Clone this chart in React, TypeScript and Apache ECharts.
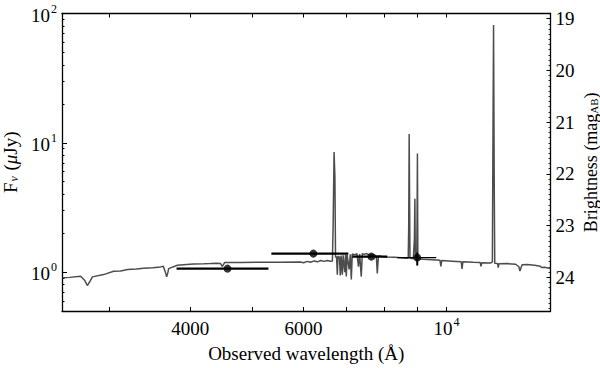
import React, { useEffect, useRef } from "react";
import * as echarts from "echarts";

// Spectrum: observed wavelength (Å) and flux density F_nu (μJy)
const specWave = [
  2535, 2600, 2704, 2745, 2770, 2800, 2820, 2936, 3043, 3120, 3199, 3300, 3387, 3500, 3599, 3634, 3660, 3678, 3695, 3704,
  3821, 3950, 4051, 4200, 4302, 4400, 4460, 4486, 4510, 4523, 4800, 5143, 5500, 5933, 6000, 6080, 6150, 6230, 6300, 6380,
  6450, 6530, 6601, 6650, 6668, 6690, 6710, 6725, 6750, 6768, 6785, 6820, 6840, 6860, 6890, 6910, 6950, 6970, 6989, 7010,
  7060, 7090, 7115, 7140, 7200, 7260, 7300, 7330, 7373, 7400, 7450, 7520, 7600, 7700, 7780, 7808, 7840, 7950, 8100, 8300,
  8500, 8650, 8720, 8735, 8750, 8762, 8775, 8880, 8915, 8930, 8945, 8990, 9000, 9012, 9025, 9040, 9200, 9500, 9770, 9800,
  9830, 10200, 10540, 10570, 10600, 11000, 11280, 11310, 11340, 11700, 11780, 11800, 11830, 11860, 11880, 12000, 12030, 12060, 12420, 12800,
  12950, 13000, 13050, 13100, 13340, 13700, 13980, 14060, 14200, 14500,
];
const specFlux = [
  0.902, 0.91, 0.928, 0.86, 0.787, 0.86, 0.918, 0.956, 1.014, 1.02, 1.045, 1.055, 1.07, 1.08, 1.097, 1.108, 1.0, 0.918, 1.0, 1.064,
  1.128, 1.145, 1.157, 1.16, 1.163, 1.17, 1.165, 1.108, 1.15, 1.184, 1.188, 1.19, 1.192, 1.195, 1.18, 1.21, 1.19, 1.22, 1.2, 1.23,
  1.21, 1.23, 1.212, 1.22, 2.33, 8.48, 5.49, 1.3, 1.32, 0.956, 1.33, 1.3, 0.94, 1.34, 0.956, 1.35, 1.0, 1.36, 0.923, 1.36,
  1.05, 1.37, 0.875, 1.38, 1.36, 1.39, 1.1, 1.38, 0.923, 1.39, 1.37, 1.39, 1.35, 1.36, 1.34, 0.974, 1.34, 1.32, 1.31, 1.3,
  1.29, 1.28, 1.28, 2.2, 11.7, 4.0, 1.28, 1.27, 1.8, 3.69, 1.27, 1.27, 2.5, 8.27, 1.27, 1.26, 1.255, 1.245, 1.233, 1.108,
  1.23, 1.215, 1.2, 1.058, 1.2, 1.19, 1.185, 1.108, 1.18, 1.175, 1.2, 7.2, 81.5, 4.3, 1.17, 1.165, 1.083, 1.16, 1.163, 1.15,
  1.1, 1.02, 1.08, 1.14, 1.143, 1.13, 1.108, 1.083, 1.09, 1.064,
];

// Photometric points
const photWave = [4571, 6213, 7645, 9006];
const photFlux = [1.064, 1.389, 1.317, 1.294];
const photWaveLo = [3810, 5347, 7142, 8386];
const photWaveHi = [5291, 7039, 8091, 9638];
const photFluxLo = [1.064, 1.389, 1.317, 1.123];
const photFluxHi = [1.064, 1.389, 1.317, 1.414];

// Axes
const xMin = 2530;
const xMax = 14500;
const yMin = 0.5;
const yMax = 100;
const xTickValues = [3000, 4000, 5000, 6000, 7000, 8000, 9000, 10000];
const xLabelValues = [4000, 6000, 10000];
const yMajorValues = [1, 10, 100];
const yMinorValues = [0.5, 0.6, 0.7, 0.8, 0.9, 2, 3, 4, 5, 6, 7, 8, 9, 20, 30, 40, 50, 60, 70, 80, 90];
const magLabels = [19, 20, 21, 22, 23, 24];
const magZero = 23.9; // AB zero point for μJy

const FONT = "'Liberation Serif', 'DejaVu Serif', serif";
const lg = Math.log10;

export default function App() {
  const ref = useRef<HTMLDivElement>(null);

  useEffect(() => {
    if (!ref.current) return;
    const chart = echarts.init(ref.current, null, { renderer: "svg" });

    const xmin = lg(xMin);
    const xmax = lg(xMax);
    const ymin = lg(yMin);
    const ymax = lg(yMax);
    const magTop = magZero - 2.5 * ymax;
    const magBottom = magZero - 2.5 * ymin;
    const magMinor: number[] = [];
    for (let m = Math.ceil(magTop * 10); m <= Math.floor(magBottom * 10); m++) {
      if (m % 10 !== 0) magMinor.push(m / 10);
    }

    const specData = specWave.map((w, i) => [lg(w), lg(specFlux[i])]);
    const photData = photWave.map((w, i) => [lg(w), lg(photFlux[i])]);
    const errData = photWave.map((w, i) => [
      lg(w),
      lg(photFlux[i]),
      lg(photWaveLo[i]),
      lg(photWaveHi[i]),
      lg(photFluxLo[i]),
      lg(photFluxHi[i]),
      i === 3 ? 1.2 : 2.2,
    ]);

    const supRich = {
      b: { fontFamily: FONT, fontSize: 19, color: "#000", verticalAlign: "bottom", lineHeight: 22 },
      s: { fontFamily: FONT, fontSize: 12, color: "#000", verticalAlign: "top", lineHeight: 22, padding: [0, 0, 0, 1] },
    };

    const xFmt = (v: number) => {
      const r = Math.round(Math.pow(10, v));
      if (r === 10000) return "{b|10}{s|4}";
      return "{b|" + r + "}";
    };

    const option: any = {
      animation: false,
      grid: {
        left: 62,
        right: 49.5,
        top: 13.5,
        bottom: 57,
        containLabel: false,
        outerBoundsMode: "none",
      },
      xAxis: [
        {
          type: "value",
          position: "bottom",
          min: xmin,
          max: xmax,
          axisLine: { show: true, onZero: false, lineStyle: { color: "#000", width: 1.3 } },
          axisTick: {
            show: true,
            inside: true,
            length: 4,
            customValues: xTickValues.map(lg),
            lineStyle: { color: "#000", width: 1 },
          },
          axisLabel: {
            show: true,
            customValues: xLabelValues.map(lg),
            formatter: xFmt,
            margin: 5,
            rich: supRich,
          },
          splitLine: { show: false },
          name: "Observed wavelength (Å)",
          nameLocation: "middle",
          nameGap: 33,
          nameTextStyle: { fontFamily: FONT, fontSize: 19, color: "#000" },
        },
        {
          type: "value",
          position: "top",
          min: xmin,
          max: xmax,
          axisLine: { show: true, onZero: false, lineStyle: { color: "#000", width: 1.3 } },
          axisTick: {
            show: true,
            inside: true,
            length: 4,
            customValues: xTickValues.map(lg),
            lineStyle: { color: "#000", width: 1 },
          },
          axisLabel: { show: false },
          splitLine: { show: false },
        },
      ],
      yAxis: [
        {
          type: "value",
          position: "left",
          min: ymin,
          max: ymax,
          axisLine: { show: true, onZero: false, lineStyle: { color: "#000", width: 1.3 } },
          axisTick: {
            show: true,
            inside: true,
            length: 5,
            customValues: yMajorValues.map(lg),
            lineStyle: { color: "#000", width: 1 },
          },
          axisLabel: {
            show: true,
            customValues: yMajorValues.map(lg),
            formatter: (v: number) => "{b|10}{s|" + Math.round(v) + "}",
            margin: 5,
            rich: supRich,
          },
          splitLine: { show: false },
          name: "{f|F}{sub|ν}{f| (}{i|μ}{f|Jy)}",
          nameLocation: "middle",
          nameGap: 37,
          nameRotate: 90,
          nameTextStyle: {
            fontFamily: FONT,
            fontSize: 19,
            color: "#000",
            rich: {
              f: { fontFamily: FONT, fontSize: 19, color: "#000", verticalAlign: "bottom", lineHeight: 22 },
              i: { fontFamily: FONT, fontSize: 19, fontStyle: "italic", color: "#000", verticalAlign: "bottom", lineHeight: 22 },
              sub: { fontFamily: FONT, fontSize: 12, fontStyle: "italic", color: "#000", verticalAlign: "bottom", lineHeight: 18, padding: [0, 1, 0, 1] },
            },
          },
        },
        {
          type: "value",
          position: "right",
          inverse: true,
          min: magTop,
          max: magBottom,
          axisLine: { show: true, onZero: false, lineStyle: { color: "#000", width: 1.3 } },
          axisTick: {
            show: true,
            inside: true,
            length: 4,
            customValues: magLabels,
            lineStyle: { color: "#000", width: 1 },
          },
          axisLabel: {
            show: true,
            customValues: magLabels,
            formatter: (v: number) => String(Math.round(v)),
            margin: 5,
            fontFamily: FONT,
            fontSize: 19,
            color: "#000",
          },
          splitLine: { show: false },
          name: "{f|Brightness (mag}{sub|AB}{f|)}",
          nameLocation: "middle",
          nameGap: 29,
          nameRotate: 90,
          nameMoveOverlap: false,
          nameTextStyle: {
            fontFamily: FONT,
            fontSize: 18,
            color: "#000",
            rich: {
              f: { fontFamily: FONT, fontSize: 18, color: "#000", verticalAlign: "bottom", lineHeight: 20 },
              sub: { fontFamily: FONT, fontSize: 11, color: "#000", verticalAlign: "bottom", lineHeight: 16 },
            },
          },
        },
        {
          type: "value",
          position: "left",
          min: ymin,
          max: ymax,
          axisLine: { show: false },
          axisTick: {
            show: true,
            inside: true,
            length: 2.5,
            customValues: yMinorValues.map(lg),
            lineStyle: { color: "#000", width: 1 },
          },
          axisLabel: { show: false },
          splitLine: { show: false },
        },
        {
          type: "value",
          position: "right",
          inverse: true,
          min: magTop,
          max: magBottom,
          axisLine: { show: false },
          axisTick: {
            show: true,
            inside: true,
            length: 2,
            customValues: magMinor,
            lineStyle: { color: "#000", width: 0.8 },
          },
          axisLabel: { show: false },
          splitLine: { show: false },
        },
      ],
      series: [
        {
          type: "line",
          xAxisIndex: 0,
          yAxisIndex: 0,
          data: specData,
          showSymbol: false,
          symbol: "none",
          lineStyle: { color: "#4d4d4d", width: 1.5 },
          z: 2,
        },
        {
          type: "custom",
          xAxisIndex: 0,
          yAxisIndex: 0,
          data: errData,
          encode: { x: 0, y: 1 },
          z: 3,
          renderItem: (_params: any, api: any) => {
            const y = api.value(1);
            const a = api.coord([api.value(2), y]);
            const b = api.coord([api.value(3), y]);
            const c = api.coord([api.value(0), api.value(4)]);
            const d = api.coord([api.value(0), api.value(5)]);
            const w = api.value(6);
            return {
              type: "group",
              children: [
                {
                  type: "line",
                  shape: { x1: a[0], y1: a[1], x2: b[0], y2: b[1] },
                  style: { stroke: "#000", lineWidth: w },
                },
                {
                  type: "line",
                  shape: { x1: c[0], y1: c[1], x2: d[0], y2: d[1] },
                  style: { stroke: "#000", lineWidth: 2 },
                },
              ],
            };
          },
        },
        {
          type: "scatter",
          xAxisIndex: 0,
          yAxisIndex: 0,
          data: photData,
          symbol: "circle",
          symbolSize: 8,
          itemStyle: { color: "#000" },
          z: 4,
        },
      ],
    };

    chart.setOption(option);
    return () => chart.dispose();
  }, []);

  return (
    <div
      ref={ref}
      style={{ position: "fixed", left: 0, top: 0, width: 600, height: 368, background: "#fff" }}
    />
  );
}
